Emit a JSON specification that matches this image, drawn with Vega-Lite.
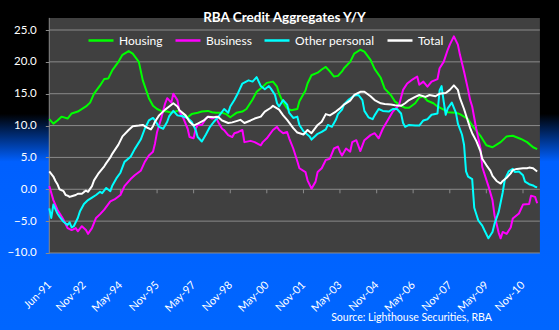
{
  "$schema": "https://vega.github.io/schema/vega-lite/v6.json",
  "width": 559,
  "height": 330,
  "autosize": {"type": "none"},
  "padding": 0,
  "background": "#0066ff",
  "config": {"view": {"stroke": null}, "font": "Lato"},
  "title": {"text": "RBA Credit Aggregates Y/Y", "color": "#ffffff", "font": "Lato", "fontSize": 13.5, "fontWeight": "bold", "anchor": "middle", "offset": -24, "dx": 5},
  "datasets": {
    "credit": [
      {"series":"Housing","month":"1991-06","value":11.0},{"series":"Housing","month":"1991-08","value":10.3},{"series":"Housing","month":"1991-10","value":10.8},{"series":"Housing","month":"1991-12","value":11.4},{"series":"Housing","month":"1992-03","value":11.1},{"series":"Housing","month":"1992-05","value":11.9},{"series":"Housing","month":"1992-08","value":12.2},{"series":"Housing","month":"1992-12","value":13.0},{"series":"Housing","month":"1993-02","value":13.6},{"series":"Housing","month":"1993-04","value":15.0},{"series":"Housing","month":"1993-07","value":16.3},{"series":"Housing","month":"1993-09","value":17.3},{"series":"Housing","month":"1993-11","value":17.4},{"series":"Housing","month":"1994-01","value":18.7},{"series":"Housing","month":"1994-04","value":20.0},{"series":"Housing","month":"1994-06","value":21.1},{"series":"Housing","month":"1994-09","value":21.7},{"series":"Housing","month":"1994-11","value":21.3},{"series":"Housing","month":"1995-02","value":20.0},{"series":"Housing","month":"1995-04","value":17.1},{"series":"Housing","month":"1995-07","value":14.3},{"series":"Housing","month":"1995-09","value":13.1},{"series":"Housing","month":"1995-11","value":12.6},{"series":"Housing","month":"1996-01","value":12.3},{"series":"Housing","month":"1996-04","value":12.2},{"series":"Housing","month":"1996-06","value":12.0},{"series":"Housing","month":"1996-09","value":12.3},{"series":"Housing","month":"1996-11","value":12.0},{"series":"Housing","month":"1997-02","value":11.3},{"series":"Housing","month":"1997-04","value":11.8},{"series":"Housing","month":"1997-07","value":12.0},{"series":"Housing","month":"1997-09","value":12.2},{"series":"Housing","month":"1997-12","value":12.3},{"series":"Housing","month":"1998-02","value":12.1},{"series":"Housing","month":"1998-04","value":12.0},{"series":"Housing","month":"1998-07","value":12.0},{"series":"Housing","month":"1998-09","value":11.8},{"series":"Housing","month":"1998-11","value":11.3},{"series":"Housing","month":"1999-02","value":12.0},{"series":"Housing","month":"1999-05","value":12.2},{"series":"Housing","month":"1999-07","value":12.6},{"series":"Housing","month":"1999-10","value":14.1},{"series":"Housing","month":"1999-12","value":15.3},{"series":"Housing","month":"2000-03","value":16.1},{"series":"Housing","month":"2000-05","value":16.7},{"series":"Housing","month":"2000-08","value":16.9},{"series":"Housing","month":"2000-10","value":16.1},{"series":"Housing","month":"2000-11","value":15.0},{"series":"Housing","month":"2001-01","value":13.6},{"series":"Housing","month":"2001-03","value":12.7},{"series":"Housing","month":"2001-05","value":12.4},{"series":"Housing","month":"2001-08","value":12.6},{"series":"Housing","month":"2001-09","value":13.8},{"series":"Housing","month":"2001-12","value":15.5},{"series":"Housing","month":"2002-01","value":16.6},{"series":"Housing","month":"2002-03","value":17.9},{"series":"Housing","month":"2002-06","value":18.3},{"series":"Housing","month":"2002-08","value":18.8},{"series":"Housing","month":"2002-10","value":19.2},{"series":"Housing","month":"2002-12","value":18.5},{"series":"Housing","month":"2003-02","value":17.7},{"series":"Housing","month":"2003-04","value":17.8},{"series":"Housing","month":"2003-06","value":18.5},{"series":"Housing","month":"2003-07","value":19.0},{"series":"Housing","month":"2003-10","value":20.0},{"series":"Housing","month":"2003-12","value":21.3},{"series":"Housing","month":"2004-03","value":21.9},{"series":"Housing","month":"2004-05","value":21.6},{"series":"Housing","month":"2004-08","value":20.3},{"series":"Housing","month":"2004-10","value":18.9},{"series":"Housing","month":"2005-01","value":17.5},{"series":"Housing","month":"2005-03","value":15.8},{"series":"Housing","month":"2005-06","value":14.8},{"series":"Housing","month":"2005-08","value":13.8},{"series":"Housing","month":"2005-11","value":13.1},{"series":"Housing","month":"2006-01","value":12.8},{"series":"Housing","month":"2006-03","value":12.8},{"series":"Housing","month":"2006-06","value":13.5},{"series":"Housing","month":"2006-08","value":14.4},{"series":"Housing","month":"2006-10","value":14.6},{"series":"Housing","month":"2006-12","value":13.9},{"series":"Housing","month":"2007-03","value":13.5},{"series":"Housing","month":"2007-05","value":13.0},{"series":"Housing","month":"2007-08","value":12.5},{"series":"Housing","month":"2007-10","value":12.1},{"series":"Housing","month":"2008-02","value":12.0},{"series":"Housing","month":"2008-04","value":11.8},{"series":"Housing","month":"2008-08","value":11.0},{"series":"Housing","month":"2008-10","value":10.0},{"series":"Housing","month":"2009-02","value":8.4},{"series":"Housing","month":"2009-05","value":6.9},{"series":"Housing","month":"2009-08","value":6.6},{"series":"Housing","month":"2009-12","value":7.4},{"series":"Housing","month":"2010-03","value":8.3},{"series":"Housing","month":"2010-06","value":8.4},{"series":"Housing","month":"2010-10","value":7.9},{"series":"Housing","month":"2011-01","value":7.4},{"series":"Housing","month":"2011-04","value":6.6},{"series":"Housing","month":"2011-06","value":6.3},
      {"series":"Business","month":"1991-06","value":0.5},{"series":"Business","month":"1991-08","value":-1.7},{"series":"Business","month":"1991-10","value":-3.2},{"series":"Business","month":"1992-01","value":-4.8},{"series":"Business","month":"1992-03","value":-6.1},{"series":"Business","month":"1992-05","value":-6.4},{"series":"Business","month":"1992-07","value":-6.1},{"series":"Business","month":"1992-08","value":-6.6},{"series":"Business","month":"1992-10","value":-5.8},{"series":"Business","month":"1992-12","value":-6.4},{"series":"Business","month":"1993-01","value":-7.0},{"series":"Business","month":"1993-03","value":-6.1},{"series":"Business","month":"1993-05","value":-4.5},{"series":"Business","month":"1993-07","value":-3.9},{"series":"Business","month":"1993-09","value":-3.2},{"series":"Business","month":"1993-12","value":-1.9},{"series":"Business","month":"1994-02","value":-1.6},{"series":"Business","month":"1994-05","value":-0.9},{"series":"Business","month":"1994-07","value":0.5},{"series":"Business","month":"1994-10","value":1.6},{"series":"Business","month":"1994-12","value":2.2},{"series":"Business","month":"1995-03","value":2.9},{"series":"Business","month":"1995-05","value":4.3},{"series":"Business","month":"1995-07","value":5.3},{"series":"Business","month":"1995-09","value":5.9},{"series":"Business","month":"1995-10","value":7.2},{"series":"Business","month":"1995-11","value":9.0},{"series":"Business","month":"1996-01","value":11.1},{"series":"Business","month":"1996-03","value":13.5},{"series":"Business","month":"1996-04","value":14.3},{"series":"Business","month":"1996-06","value":13.6},{"series":"Business","month":"1996-07","value":15.0},{"series":"Business","month":"1996-09","value":14.0},{"series":"Business","month":"1996-10","value":12.2},{"series":"Business","month":"1996-12","value":11.1},{"series":"Business","month":"1997-02","value":9.5},{"series":"Business","month":"1997-03","value":8.2},{"series":"Business","month":"1997-05","value":8.0},{"series":"Business","month":"1997-06","value":9.5},{"series":"Business","month":"1997-07","value":10.1},{"series":"Business","month":"1997-09","value":10.1},{"series":"Business","month":"1997-11","value":11.1},{"series":"Business","month":"1997-12","value":11.4},{"series":"Business","month":"1998-02","value":11.1},{"series":"Business","month":"1998-04","value":11.4},{"series":"Business","month":"1998-05","value":10.6},{"series":"Business","month":"1998-07","value":9.5},{"series":"Business","month":"1998-08","value":9.3},{"series":"Business","month":"1998-10","value":8.5},{"series":"Business","month":"1998-12","value":8.2},{"series":"Business","month":"1999-01","value":8.8},{"series":"Business","month":"1999-03","value":9.0},{"series":"Business","month":"1999-05","value":9.3},{"series":"Business","month":"1999-06","value":7.4},{"series":"Business","month":"1999-09","value":7.6},{"series":"Business","month":"1999-11","value":7.4},{"series":"Business","month":"2000-02","value":6.9},{"series":"Business","month":"2000-03","value":7.4},{"series":"Business","month":"2000-05","value":8.0},{"series":"Business","month":"2000-08","value":9.3},{"series":"Business","month":"2000-10","value":9.8},{"series":"Business","month":"2000-11","value":9.3},{"series":"Business","month":"2001-01","value":8.8},{"series":"Business","month":"2001-03","value":9.0},{"series":"Business","month":"2001-04","value":8.0},{"series":"Business","month":"2001-06","value":6.4},{"series":"Business","month":"2001-08","value":4.4},{"series":"Business","month":"2001-09","value":3.3},{"series":"Business","month":"2001-12","value":2.7},{"series":"Business","month":"2002-01","value":1.4},{"series":"Business","month":"2002-03","value":0.1},{"series":"Business","month":"2002-05","value":1.2},{"series":"Business","month":"2002-06","value":2.7},{"series":"Business","month":"2002-08","value":3.3},{"series":"Business","month":"2002-10","value":4.6},{"series":"Business","month":"2002-12","value":4.8},{"series":"Business","month":"2003-02","value":6.4},{"series":"Business","month":"2003-04","value":6.7},{"series":"Business","month":"2003-05","value":5.9},{"series":"Business","month":"2003-06","value":5.3},{"series":"Business","month":"2003-08","value":6.4},{"series":"Business","month":"2003-10","value":5.9},{"series":"Business","month":"2003-11","value":7.4},{"series":"Business","month":"2004-01","value":7.7},{"series":"Business","month":"2004-03","value":6.0},{"series":"Business","month":"2004-05","value":7.7},{"series":"Business","month":"2004-08","value":8.5},{"series":"Business","month":"2004-10","value":8.8},{"series":"Business","month":"2004-12","value":8.0},{"series":"Business","month":"2005-02","value":9.5},{"series":"Business","month":"2005-05","value":11.1},{"series":"Business","month":"2005-07","value":12.2},{"series":"Business","month":"2005-10","value":13.2},{"series":"Business","month":"2005-12","value":15.6},{"series":"Business","month":"2006-02","value":16.6},{"series":"Business","month":"2006-05","value":17.3},{"series":"Business","month":"2006-07","value":17.7},{"series":"Business","month":"2006-08","value":16.4},{"series":"Business","month":"2006-10","value":16.9},{"series":"Business","month":"2006-12","value":16.1},{"series":"Business","month":"2007-02","value":16.9},{"series":"Business","month":"2007-05","value":17.3},{"series":"Business","month":"2007-06","value":19.0},{"series":"Business","month":"2007-08","value":20.0},{"series":"Business","month":"2007-10","value":21.9},{"series":"Business","month":"2007-11","value":22.7},{"series":"Business","month":"2008-01","value":24.0},{"series":"Business","month":"2008-03","value":22.7},{"series":"Business","month":"2008-04","value":21.1},{"series":"Business","month":"2008-06","value":18.5},{"series":"Business","month":"2008-08","value":15.6},{"series":"Business","month":"2008-09","value":14.0},{"series":"Business","month":"2008-10","value":13.0},{"series":"Business","month":"2008-12","value":9.5},{"series":"Business","month":"2009-02","value":6.5},{"series":"Business","month":"2009-03","value":3.5},{"series":"Business","month":"2009-06","value":0.5},{"series":"Business","month":"2009-08","value":-1.7},{"series":"Business","month":"2009-09","value":-4.1},{"series":"Business","month":"2009-11","value":-6.8},{"series":"Business","month":"2009-12","value":-7.7},{"series":"Business","month":"2010-01","value":-6.7},{"series":"Business","month":"2010-03","value":-7.0},{"series":"Business","month":"2010-05","value":-6.0},{"series":"Business","month":"2010-06","value":-4.6},{"series":"Business","month":"2010-09","value":-3.8},{"series":"Business","month":"2010-11","value":-2.4},{"series":"Business","month":"2011-02","value":-2.3},{"series":"Business","month":"2011-03","value":-1.0},{"series":"Business","month":"2011-05","value":-1.2},{"series":"Business","month":"2011-06","value":-2.2},
      {"series":"Other personal","month":"1991-06","value":-3.0},{"series":"Other personal","month":"1991-07","value":-4.5},{"series":"Other personal","month":"1991-08","value":-2.4},{"series":"Other personal","month":"1991-10","value":-3.8},{"series":"Other personal","month":"1991-11","value":-4.3},{"series":"Other personal","month":"1992-01","value":-5.1},{"series":"Other personal","month":"1992-03","value":-5.6},{"series":"Other personal","month":"1992-04","value":-5.2},{"series":"Other personal","month":"1992-05","value":-6.0},{"series":"Other personal","month":"1992-06","value":-5.8},{"series":"Other personal","month":"1992-08","value":-4.5},{"series":"Other personal","month":"1992-09","value":-3.5},{"series":"Other personal","month":"1992-11","value":-2.3},{"series":"Other personal","month":"1993-01","value":-1.7},{"series":"Other personal","month":"1993-03","value":-1.3},{"series":"Other personal","month":"1993-05","value":-0.9},{"series":"Other personal","month":"1993-07","value":-0.4},{"series":"Other personal","month":"1993-08","value":-0.6},{"series":"Other personal","month":"1993-10","value":0.2},{"series":"Other personal","month":"1993-12","value":-0.3},{"series":"Other personal","month":"1994-01","value":0.6},{"series":"Other personal","month":"1994-03","value":1.7},{"series":"Other personal","month":"1994-05","value":2.6},{"series":"Other personal","month":"1994-07","value":4.3},{"series":"Other personal","month":"1994-10","value":5.1},{"series":"Other personal","month":"1994-12","value":6.3},{"series":"Other personal","month":"1995-03","value":7.8},{"series":"Other personal","month":"1995-05","value":9.5},{"series":"Other personal","month":"1995-07","value":10.8},{"series":"Other personal","month":"1995-09","value":11.2},{"series":"Other personal","month":"1995-10","value":10.8},{"series":"Other personal","month":"1995-12","value":9.8},{"series":"Other personal","month":"1996-02","value":9.5},{"series":"Other personal","month":"1996-04","value":10.6},{"series":"Other personal","month":"1996-05","value":11.5},{"series":"Other personal","month":"1996-07","value":12.3},{"series":"Other personal","month":"1996-09","value":11.6},{"series":"Other personal","month":"1996-11","value":11.5},{"series":"Other personal","month":"1997-02","value":11.2},{"series":"Other personal","month":"1997-04","value":10.6},{"series":"Other personal","month":"1997-06","value":9.3},{"series":"Other personal","month":"1997-07","value":8.2},{"series":"Other personal","month":"1997-09","value":7.5},{"series":"Other personal","month":"1997-11","value":8.6},{"series":"Other personal","month":"1998-01","value":9.8},{"series":"Other personal","month":"1998-03","value":10.6},{"series":"Other personal","month":"1998-05","value":11.3},{"series":"Other personal","month":"1998-08","value":12.6},{"series":"Other personal","month":"1998-10","value":12.0},{"series":"Other personal","month":"1998-11","value":13.0},{"series":"Other personal","month":"1999-01","value":14.0},{"series":"Other personal","month":"1999-03","value":15.2},{"series":"Other personal","month":"1999-05","value":16.6},{"series":"Other personal","month":"1999-08","value":17.1},{"series":"Other personal","month":"1999-10","value":16.9},{"series":"Other personal","month":"1999-12","value":17.6},{"series":"Other personal","month":"2000-02","value":16.2},{"series":"Other personal","month":"2000-04","value":15.7},{"series":"Other personal","month":"2000-06","value":16.2},{"series":"Other personal","month":"2000-07","value":15.8},{"series":"Other personal","month":"2000-09","value":14.8},{"series":"Other personal","month":"2000-10","value":13.5},{"series":"Other personal","month":"2000-11","value":13.0},{"series":"Other personal","month":"2001-01","value":14.0},{"series":"Other personal","month":"2001-03","value":13.3},{"series":"Other personal","month":"2001-04","value":12.0},{"series":"Other personal","month":"2001-06","value":11.2},{"series":"Other personal","month":"2001-08","value":11.4},{"series":"Other personal","month":"2001-09","value":10.1},{"series":"Other personal","month":"2001-11","value":9.1},{"series":"Other personal","month":"2002-02","value":8.3},{"series":"Other personal","month":"2002-03","value":7.8},{"series":"Other personal","month":"2002-05","value":8.4},{"series":"Other personal","month":"2002-06","value":8.7},{"series":"Other personal","month":"2002-08","value":9.0},{"series":"Other personal","month":"2002-10","value":9.4},{"series":"Other personal","month":"2002-11","value":10.1},{"series":"Other personal","month":"2003-01","value":9.8},{"series":"Other personal","month":"2003-03","value":10.9},{"series":"Other personal","month":"2003-04","value":11.8},{"series":"Other personal","month":"2003-06","value":12.5},{"series":"Other personal","month":"2003-07","value":13.3},{"series":"Other personal","month":"2003-09","value":14.0},{"series":"Other personal","month":"2003-12","value":14.7},{"series":"Other personal","month":"2004-02","value":14.8},{"series":"Other personal","month":"2004-04","value":14.0},{"series":"Other personal","month":"2004-05","value":12.3},{"series":"Other personal","month":"2004-07","value":11.3},{"series":"Other personal","month":"2004-09","value":11.0},{"series":"Other personal","month":"2004-10","value":11.6},{"series":"Other personal","month":"2004-12","value":12.6},{"series":"Other personal","month":"2005-02","value":12.3},{"series":"Other personal","month":"2005-05","value":12.2},{"series":"Other personal","month":"2005-07","value":12.6},{"series":"Other personal","month":"2005-09","value":12.6},{"series":"Other personal","month":"2005-11","value":11.9},{"series":"Other personal","month":"2005-12","value":10.4},{"series":"Other personal","month":"2006-01","value":9.8},{"series":"Other personal","month":"2006-03","value":10.1},{"series":"Other personal","month":"2006-06","value":10.0},{"series":"Other personal","month":"2006-08","value":10.0},{"series":"Other personal","month":"2006-10","value":10.8},{"series":"Other personal","month":"2006-12","value":11.0},{"series":"Other personal","month":"2007-02","value":11.7},{"series":"Other personal","month":"2007-05","value":11.9},{"series":"Other personal","month":"2007-06","value":15.5},{"series":"Other personal","month":"2007-07","value":16.2},{"series":"Other personal","month":"2007-08","value":13.8},{"series":"Other personal","month":"2007-09","value":11.7},{"series":"Other personal","month":"2007-10","value":12.7},{"series":"Other personal","month":"2007-12","value":13.6},{"series":"Other personal","month":"2008-02","value":12.0},{"series":"Other personal","month":"2008-03","value":10.3},{"series":"Other personal","month":"2008-05","value":8.6},{"series":"Other personal","month":"2008-06","value":7.0},{"series":"Other personal","month":"2008-07","value":2.8},{"series":"Other personal","month":"2008-08","value":2.0},{"series":"Other personal","month":"2008-10","value":1.6},{"series":"Other personal","month":"2008-11","value":-2.9},{"series":"Other personal","month":"2009-01","value":-4.9},{"series":"Other personal","month":"2009-03","value":-5.7},{"series":"Other personal","month":"2009-04","value":-6.4},{"series":"Other personal","month":"2009-06","value":-7.7},{"series":"Other personal","month":"2009-08","value":-6.7},{"series":"Other personal","month":"2009-09","value":-5.4},{"series":"Other personal","month":"2009-11","value":-3.6},{"series":"Other personal","month":"2010-01","value":-0.5},{"series":"Other personal","month":"2010-02","value":1.5},{"series":"Other personal","month":"2010-04","value":2.8},{"series":"Other personal","month":"2010-06","value":3.2},{"series":"Other personal","month":"2010-07","value":2.7},{"series":"Other personal","month":"2010-09","value":2.8},{"series":"Other personal","month":"2010-11","value":2.2},{"series":"Other personal","month":"2010-12","value":1.2},{"series":"Other personal","month":"2011-02","value":0.8},{"series":"Other personal","month":"2011-04","value":0.6},{"series":"Other personal","month":"2011-05","value":0.4},{"series":"Other personal","month":"2011-06","value":0.3},
      {"series":"Total","month":"1991-06","value":2.8},{"series":"Total","month":"1991-08","value":2.0},{"series":"Total","month":"1991-09","value":1.3},{"series":"Total","month":"1991-10","value":0.8},{"series":"Total","month":"1991-11","value":0.0},{"series":"Total","month":"1992-01","value":-0.3},{"series":"Total","month":"1992-02","value":-0.9},{"series":"Total","month":"1992-03","value":-1.0},{"series":"Total","month":"1992-04","value":-1.2},{"series":"Total","month":"1992-05","value":-1.1},{"series":"Total","month":"1992-07","value":-0.9},{"series":"Total","month":"1992-08","value":-0.7},{"series":"Total","month":"1992-10","value":-0.7},{"series":"Total","month":"1992-12","value":-0.2},{"series":"Total","month":"1993-01","value":-0.4},{"series":"Total","month":"1993-03","value":0.5},{"series":"Total","month":"1993-04","value":1.4},{"series":"Total","month":"1993-06","value":2.4},{"series":"Total","month":"1993-08","value":3.2},{"series":"Total","month":"1993-09","value":3.6},{"series":"Total","month":"1993-10","value":4.1},{"series":"Total","month":"1993-12","value":5.0},{"series":"Total","month":"1994-01","value":5.6},{"series":"Total","month":"1994-04","value":7.0},{"series":"Total","month":"1994-06","value":8.3},{"series":"Total","month":"1994-09","value":9.3},{"series":"Total","month":"1994-11","value":9.9},{"series":"Total","month":"1995-02","value":10.0},{"series":"Total","month":"1995-04","value":10.1},{"series":"Total","month":"1995-06","value":9.7},{"series":"Total","month":"1995-08","value":9.4},{"series":"Total","month":"1995-09","value":9.9},{"series":"Total","month":"1995-10","value":10.6},{"series":"Total","month":"1995-12","value":11.6},{"series":"Total","month":"1996-03","value":12.5},{"series":"Total","month":"1996-05","value":13.0},{"series":"Total","month":"1996-07","value":13.5},{"series":"Total","month":"1996-09","value":13.0},{"series":"Total","month":"1996-10","value":12.4},{"series":"Total","month":"1997-01","value":11.6},{"series":"Total","month":"1997-03","value":10.6},{"series":"Total","month":"1997-05","value":10.0},{"series":"Total","month":"1997-07","value":10.3},{"series":"Total","month":"1997-10","value":10.8},{"series":"Total","month":"1997-12","value":11.4},{"series":"Total","month":"1998-03","value":11.3},{"series":"Total","month":"1998-05","value":11.4},{"series":"Total","month":"1998-07","value":10.8},{"series":"Total","month":"1998-10","value":10.4},{"series":"Total","month":"1998-12","value":10.5},{"series":"Total","month":"1999-02","value":10.7},{"series":"Total","month":"1999-04","value":10.9},{"series":"Total","month":"1999-06","value":10.4},{"series":"Total","month":"1999-09","value":10.8},{"series":"Total","month":"1999-11","value":11.1},{"series":"Total","month":"2000-02","value":11.4},{"series":"Total","month":"2000-04","value":12.2},{"series":"Total","month":"2000-07","value":12.8},{"series":"Total","month":"2000-08","value":13.1},{"series":"Total","month":"2000-11","value":12.5},{"series":"Total","month":"2001-01","value":11.6},{"series":"Total","month":"2001-03","value":10.9},{"series":"Total","month":"2001-06","value":9.6},{"series":"Total","month":"2001-08","value":8.9},{"series":"Total","month":"2001-11","value":8.6},{"series":"Total","month":"2002-01","value":9.3},{"series":"Total","month":"2002-03","value":8.8},{"series":"Total","month":"2002-06","value":10.1},{"series":"Total","month":"2002-08","value":10.6},{"series":"Total","month":"2002-10","value":11.8},{"series":"Total","month":"2002-12","value":11.6},{"series":"Total","month":"2003-03","value":12.2},{"series":"Total","month":"2003-05","value":12.7},{"series":"Total","month":"2003-07","value":13.3},{"series":"Total","month":"2003-10","value":13.9},{"series":"Total","month":"2003-12","value":14.8},{"series":"Total","month":"2004-03","value":15.3},{"series":"Total","month":"2004-05","value":15.3},{"series":"Total","month":"2004-08","value":14.6},{"series":"Total","month":"2004-10","value":14.0},{"series":"Total","month":"2005-01","value":13.5},{"series":"Total","month":"2005-03","value":13.4},{"series":"Total","month":"2005-06","value":13.3},{"series":"Total","month":"2005-08","value":13.2},{"series":"Total","month":"2005-11","value":13.1},{"series":"Total","month":"2006-01","value":13.5},{"series":"Total","month":"2006-03","value":14.0},{"series":"Total","month":"2006-06","value":14.5},{"series":"Total","month":"2006-08","value":14.8},{"series":"Total","month":"2006-11","value":14.5},{"series":"Total","month":"2007-01","value":14.8},{"series":"Total","month":"2007-04","value":14.6},{"series":"Total","month":"2007-06","value":15.0},{"series":"Total","month":"2007-09","value":15.1},{"series":"Total","month":"2007-11","value":15.6},{"series":"Total","month":"2008-01","value":16.3},{"series":"Total","month":"2008-03","value":15.6},{"series":"Total","month":"2008-04","value":14.3},{"series":"Total","month":"2008-06","value":12.6},{"series":"Total","month":"2008-08","value":10.6},{"series":"Total","month":"2008-09","value":9.6},{"series":"Total","month":"2008-10","value":8.8},{"series":"Total","month":"2008-12","value":7.6},{"series":"Total","month":"2009-02","value":6.0},{"series":"Total","month":"2009-03","value":4.8},{"series":"Total","month":"2009-05","value":3.8},{"series":"Total","month":"2009-07","value":2.9},{"series":"Total","month":"2009-08","value":2.1},{"series":"Total","month":"2009-10","value":1.3},{"series":"Total","month":"2009-12","value":0.9},{"series":"Total","month":"2010-01","value":1.3},{"series":"Total","month":"2010-03","value":1.8},{"series":"Total","month":"2010-05","value":2.5},{"series":"Total","month":"2010-06","value":3.0},{"series":"Total","month":"2010-08","value":3.2},{"series":"Total","month":"2010-11","value":3.3},{"series":"Total","month":"2011-01","value":3.3},{"series":"Total","month":"2011-02","value":3.4},{"series":"Total","month":"2011-04","value":3.3},{"series":"Total","month":"2011-06","value":2.8}
    ]
  },
  "layer": [
    {
      "data": {"values": [{"area": "window"}]},
      "mark": {"type": "rect", "fill": {"gradient": "linear", "x1": 0, "y1": 0, "x2": 0, "y2": 1, "stops": [{"offset": 0, "color": "#000000"}, {"offset": 0.345, "color": "#000000"}, {"offset": 0.49, "color": "#0060ff"}, {"offset": 1, "color": "#0066ff"}]}},
      "encoding": {}
    },
    {
      "data": {"values": [{"start": "1991-06-01", "end": "2011-07-12", "low": -10, "high": 26.9}], "format": {"parse": {"start": "date", "end": "date"}}},
      "mark": {"type": "rect", "fill": "#404040"},
      "encoding": {
        "x": {"field": "start", "type": "temporal", "scale": {"domain": [{"year": 1989, "month": 5, "date": 24}, {"year": 2012, "month": 4, "date": 23}]}},
        "x2": {"field": "end"},
        "y": {"field": "low", "type": "quantitative", "scale": {"domain": [-22.09, 29.71], "nice": false, "zero": false}},
        "y2": {"field": "high"}
      }
    },
    {
      "data": {"values": [{"level": -10, "start": "1991-06-01", "end": "2011-07-12"}, {"level": -5, "start": "1991-06-01", "end": "2011-07-12"}, {"level": 0, "start": "1991-06-01", "end": "2011-07-12"}, {"level": 5, "start": "1991-06-01", "end": "2011-07-12"}, {"level": 10, "start": "1991-06-01", "end": "2011-07-12"}, {"level": 15, "start": "1991-06-01", "end": "2011-07-12"}, {"level": 20, "start": "1991-06-01", "end": "2011-07-12"}, {"level": 25, "start": "1991-06-01", "end": "2011-07-12"}], "format": {"parse": {"start": "date", "end": "date"}}},
      "mark": {"type": "rule", "color": "#8a8a8a", "strokeWidth": 1},
      "encoding": {
        "y": {"field": "level", "type": "quantitative", "scale": {"domain": [-22.09, 29.71], "nice": false, "zero": false}},
        "x": {"field": "start", "type": "temporal", "scale": {"domain": [{"year": 1989, "month": 5, "date": 24}, {"year": 2012, "month": 4, "date": 23}]}},
        "x2": {"field": "end"}
      }
    },
    {
      "data": {"values": [{"start": "1991-06-01", "low": -10, "high": 26.9}], "format": {"parse": {"start": "date"}}},
      "mark": {"type": "rule", "color": "#8a8a8a", "strokeWidth": 1},
      "encoding": {
        "x": {"field": "start", "type": "temporal", "scale": {"domain": [{"year": 1989, "month": 5, "date": 24}, {"year": 2012, "month": 4, "date": 23}]}},
        "y": {"field": "low", "type": "quantitative", "scale": {"domain": [-22.09, 29.71], "nice": false, "zero": false}},
        "y2": {"field": "high"}
      }
    },
    {
      "data": {"values": [{"tick": "1992-11-01", "top": 0, "bottom": -0.63}, {"tick": "1994-05-01", "top": 0, "bottom": -0.63}, {"tick": "1995-11-01", "top": 0, "bottom": -0.63}, {"tick": "1997-05-01", "top": 0, "bottom": -0.63}, {"tick": "1998-11-01", "top": 0, "bottom": -0.63}, {"tick": "2000-05-01", "top": 0, "bottom": -0.63}, {"tick": "2001-11-01", "top": 0, "bottom": -0.63}, {"tick": "2003-05-01", "top": 0, "bottom": -0.63}, {"tick": "2004-11-01", "top": 0, "bottom": -0.63}, {"tick": "2006-05-01", "top": 0, "bottom": -0.63}, {"tick": "2007-11-01", "top": 0, "bottom": -0.63}, {"tick": "2009-05-01", "top": 0, "bottom": -0.63}, {"tick": "2010-11-01", "top": 0, "bottom": -0.63}]},
      "mark": {"type": "rule", "color": "#8a8a8a", "strokeWidth": 1},
      "encoding": {
        "x": {"field": "tick", "type": "temporal", "scale": {"domain": [{"year": 1989, "month": 5, "date": 24}, {"year": 2012, "month": 4, "date": 23}]}},
        "y": {"field": "top", "type": "quantitative", "scale": {"domain": [-22.09, 29.71], "nice": false, "zero": false}},
        "y2": {"field": "bottom"}
      }
    },
    {
      "data": {"name": "credit"},
      "mark": {"type": "line", "strokeWidth": 2, "strokeJoin": "round"},
      "encoding": {
        "x": {
          "field": "month", "type": "temporal",
          "scale": {"domain": [{"year": 1989, "month": 5, "date": 24}, {"year": 2012, "month": 4, "date": 23}]},
          "axis": {
            "orient": "bottom", "offset": -77, "zindex": 2,
            "values": [{"year": 1991, "month": 6, "date": 1}, {"year": 1992, "month": 11, "date": 1}, {"year": 1994, "month": 5, "date": 1}, {"year": 1995, "month": 11, "date": 1}, {"year": 1997, "month": 5, "date": 1}, {"year": 1998, "month": 11, "date": 1}, {"year": 2000, "month": 5, "date": 1}, {"year": 2001, "month": 11, "date": 1}, {"year": 2003, "month": 5, "date": 1}, {"year": 2004, "month": 11, "date": 1}, {"year": 2006, "month": 5, "date": 1}, {"year": 2007, "month": 11, "date": 1}, {"year": 2009, "month": 5, "date": 1}, {"year": 2010, "month": 11, "date": 1}],
            "format": "%b-%y",
            "labelAngle": -45, "labelAlign": "right", "labelBaseline": "middle",
            "labelPadding": 30, "labelDx": 2, "ticks": false, "tickSize": 0, "domain": false, "grid": false,
            "labelColor": "#ffffff", "labelFont": "Lato", "labelFontSize": 11,
            "labelOverlap": false, "labelFlush": false, "labelBound": false,
            "title": "Source: Lighthouse Securities, RBA",
            "titleColor": "#ffffff", "titleFont": "Lato", "titleFontSize": 10.5, "titleFontWeight": "normal",
            "titleX": 411, "titleY": 67, "titleAlign": "center", "titleBaseline": "alphabetic"
          }
        },
        "y": {
          "field": "value", "type": "quantitative",
          "scale": {"domain": [-22.09, 29.71], "nice": false, "zero": false},
          "axis": {
            "orient": "left", "offset": -49.3, "zindex": 2,
            "values": [-10, -5, 0, 5, 10, 15, 20, 25],
            "format": ".1f",
            "grid": false, "domain": false, "ticks": true, "tickSize": 4, "tickColor": "#8a8a8a",
            "labelPadding": 9, "labelColor": "#ffffff", "labelFont": "Lato", "labelFontSize": 11.5,
            "labelFlush": false, "labelOverlap": false,
            "title": null
          }
        },
        "color": {
          "field": "series", "type": "nominal",
          "scale": {"domain": ["Housing", "Business", "Other personal", "Total"], "range": ["#00ff00", "#ff00ff", "#00ffff", "#ffffff"]},
          "legend": {
            "orient": "none", "legendX": 87, "legendY": 26.5, "direction": "horizontal",
            "title": null, "symbolType": "stroke", "symbolSize": 625, "symbolStrokeWidth": 2.5,
            "labelColor": "#ffffff", "labelFont": "Lato", "labelFontSize": 12, "labelOffset": 4,
            "columnPadding": 7
          }
        }
      }
    }
  ]
}
